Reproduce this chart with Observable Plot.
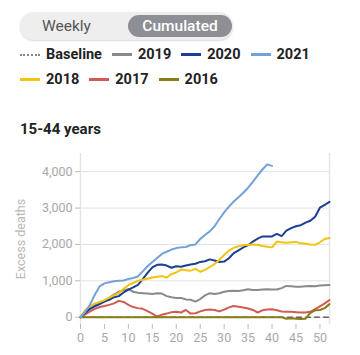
<!DOCTYPE html>
<html>
<head>
<meta charset="utf-8">
<script src="https://cdn.jsdelivr.net/npm/d3@7"></script>
<script src="https://cdn.jsdelivr.net/npm/@observablehq/plot@0.6"></script>
<style>
  html, body { margin: 0; padding: 0; background: #fff; }
  body { width: 360px; height: 355px; position: relative; overflow: hidden; font-family: "Roboto", "Inter", sans-serif; }
  .toggle { position: absolute; left: 20px; top: 12px; width: 213px; height: 28px; border-radius: 14px; background: #eeeeee; box-shadow: 0 1px 2px rgba(0,0,0,0.15); }
  .toggle .opt { position: absolute; top: 0; height: 28px; line-height: 28px; font-size: 15.5px; color: #555; }
  .toggle .weekly { left: 22px; }
  .toggle .sel { position: absolute; left: 108px; top: 3px; width: 104px; height: 22px; border-radius: 11px; background: #8d8f95; color: #fff; font-size: 15.5px; line-height: 22px; text-align: center; font-weight: 500; }
  .legend { position: absolute; left: 20px; font-size: 14.5px; font-weight: 700; color: #222; display: flex; align-items: center; white-space: nowrap; }
  .legend .item { display: flex; align-items: center; margin-right: 10px; }
  .legend .sw { width: 20px; height: 0; border-top: 3px solid; margin-right: 6px; }
  .legend .sw.dot { border-top: 2px dotted #888; }
  .title { position: absolute; left: 20px; top: 120px; font-size: 15px; font-weight: 700; color: #222; }
  #chart { position: absolute; left: 0; top: 145px; }
</style>
</head>
<body>
<div class="toggle"><span class="opt weekly">Weekly</span><div class="sel">Cumulated</div></div>
<div class="legend" id="leg1" style="top:46px"></div>
<div class="legend" id="leg2" style="top:71px"></div>
<div class="title">15-44 years</div>
<div id="chart"></div>
<script>
const seriesNames = ["2019", "2017", "2016", "2020", "2018", "2021"];
const colors = {"2016": "#8a7c14", "2017": "#d05b52", "2018": "#f0c410", "2019": "#8a8a8a", "2020": "#1c3f94", "2021": "#74a1d8"};
const legendRow1 = ["Baseline", "2019", "2020", "2021"];
const legendRow2 = ["2018", "2017", "2016"];
const xTicks = [0, 5, 10, 15, 20, 25, 30, 35, 40, 45, 50];
const yTicks = [0, 1000, 2000, 3000, 4000];
const yTitle = "Excess deaths";

const v2021 = [0,150,350,620,850,930,960,990,1000,1010,1050,1080,1120,1260,1400,1520,1630,1740,1800,1860,1900,1920,1930,1980,2000,2150,2260,2360,2500,2700,2880,3040,3180,3300,3420,3560,3720,3900,4060,4200,4160];
const v2020 = [0,120,230,300,360,430,480,550,580,680,760,820,890,1050,1220,1370,1440,1450,1420,1360,1400,1390,1420,1450,1470,1520,1540,1590,1560,1520,1530,1620,1760,1840,1920,1980,2080,2160,2220,2220,2220,2290,2230,2380,2450,2500,2530,2600,2650,2760,3010,3090,3170];
const v2018 = [0,200,300,380,420,470,540,600,660,780,880,940,1000,1030,1060,1090,1110,1130,1090,1190,1230,1310,1290,1280,1330,1250,1300,1380,1460,1580,1710,1830,1910,1950,1980,1990,2000,1990,1960,1940,1920,2080,2060,2050,2060,2070,2030,2020,2000,1990,2060,2150,2180];
const v2019 = [0,150,250,330,380,450,530,620,700,740,770,700,670,660,650,640,660,650,580,550,530,530,490,480,430,500,600,660,640,660,700,720,730,720,740,770,750,750,760,770,760,760,800,860,850,840,840,850,860,850,870,880,885];
const v2017 = [0,80,160,230,280,310,340,380,450,420,340,280,250,230,170,100,20,70,100,140,150,130,200,100,110,160,200,210,200,160,210,270,310,290,270,240,200,130,190,210,220,190,160,150,150,140,130,130,150,220,300,380,470];
const v2016 = [0,0,0,0,0,0,0,0,0,0,0,0,0,0,0,0,0,0,0,0,0,0,0,0,0,0,0,0,0,0,0,0,0,0,0,0,0,0,0,0,0,0,0,-40,-30,-40,-50,-40,120,190,200,250,360];
const vBaseline = [0,0,0,0,0,0,0,0,0,0,0,0,0,0,0,0,0,0,0,0,0,0,0,0,0,0,0,0,0,0,0,0,0,0,0,0,0,0,0,0,0,0,0,0,0,0,0,0,0,0,0,0,0];

const valuesBySeries = {"2021": v2021, "2020": v2020, "2018": v2018, "2019": v2019, "2017": v2017, "2016": v2016};
const rows = [];
for (const s of seriesNames) valuesBySeries[s].forEach((v, i) => rows.push({series: s, week: i, value: v}));
const baseRows = vBaseline.map((v, i) => ({week: i, value: v}));

function addLegend(el, names) {
  for (const n of names) {
    const it = document.createElement("div"); it.className = "item";
    const sw = document.createElement("div");
    if (n === "Baseline") { sw.className = "sw dot"; }
    else { sw.className = "sw"; sw.style.borderTopColor = colors[n]; }
    const t = document.createElement("span"); t.textContent = n;
    it.appendChild(sw); it.appendChild(t); el.appendChild(it);
  }
}
addLegend(document.getElementById("leg1"), legendRow1);
addLegend(document.getElementById("leg2"), legendRow2);

const chart = Plot.plot({
  width: 360,
  height: 210,
  marginTop: 8,
  marginBottom: 31,
  marginLeft: 80,
  marginRight: 31,
  style: {fontFamily: "Roboto, sans-serif", fontSize: "12px", color: "#a8a8a8", background: "#fff"},
  x: {domain: [0, 52]},
  y: {domain: [-200, 4500]},
  marks: [
    Plot.gridY(yTicks, {stroke: "#e2e2e2", strokeOpacity: 1, strokeWidth: 1}),
    Plot.ruleX([0, 52], {y1: -200, y2: 4500, stroke: "#e4e4e4", strokeWidth: 1.5}),
    Plot.axisX({ticks: xTicks, tickSize: 5, tickPadding: 4, label: null, stroke: "#bbb", fill: "#a8a8a8", fontSize: 12.5}),
    Plot.axisY({ticks: yTicks, tickSize: 5, tickPadding: 3, tickFormat: d3.format(","), stroke: "#bbb", fill: "#a8a8a8", fontSize: 12.5, label: null}),
    Plot.text([yTitle], {frameAnchor: "left", textAnchor: "middle", dx: -60, rotate: -90, fill: "#b8b8b8", fontSize: 12.5}),
    Plot.line(baseRows, {x: "week", y: "value", stroke: "#666", strokeWidth: 1.5, strokeDasharray: "5,4"}),
    Plot.line(rows, {x: "week", y: "value", z: "series", stroke: d => colors[d.series], strokeWidth: 2, strokeLinejoin: "round", strokeLinecap: "round"})
  ]
});
document.getElementById("chart").appendChild(chart);
</script>
</body>
</html>
